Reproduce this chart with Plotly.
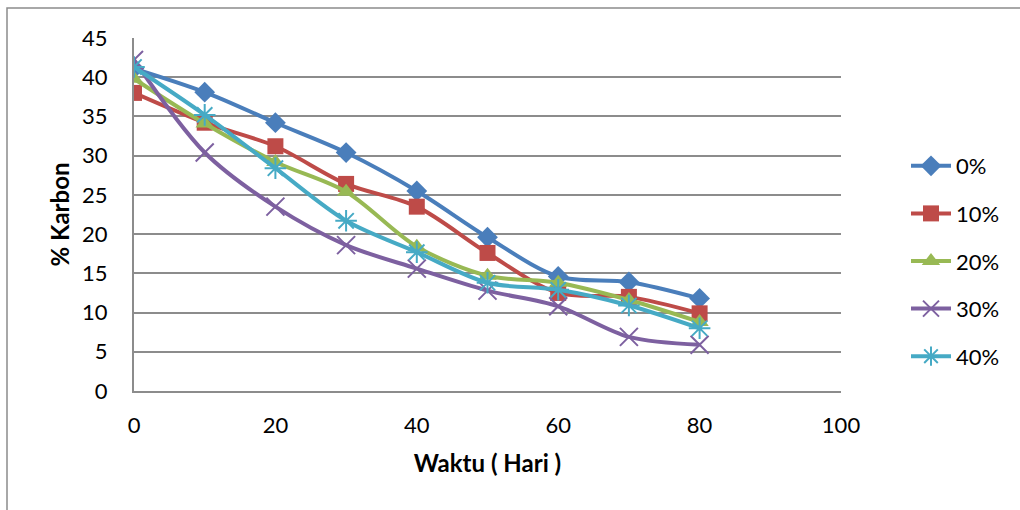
import plotly.graph_objects as go

# Days of observation
waktu = [0, 10, 20, 30, 40, 50, 60, 70, 80]

# Carbon content (%) per treatment
karbon_0 = [41.1, 38.1, 34.2, 30.4, 25.5, 19.6, 14.6, 13.9, 11.8]
karbon_10 = [38.0, 34.2, 31.2, 26.4, 23.5, 17.6, 12.5, 12.0, 9.9]
karbon_20 = [39.8, 34.1, 29.2, 25.4, 18.4, 14.7, 13.8, 11.6, 8.8]
karbon_30 = [42.2, 30.4, 23.5, 18.6, 15.6, 12.8, 10.8, 6.9, 5.9]
karbon_40 = [41.3, 35.2, 28.4, 21.7, 17.7, 13.8, 12.9, 10.9, 8.0]

labels = ["0%", "10%", "20%", "30%", "40%"]
colors = ["#4A7EBB", "#BE4B48", "#98B954", "#7D60A0", "#46AAC5"]
symbols = ["diamond", "square", "triangle-up", "x-thin-open", "asterisk-open"]
sizes = [16, 16, 16, 18, 18]
series = [karbon_0, karbon_10, karbon_20, karbon_30, karbon_40]

FONT = "Lato"

fig = go.Figure()
for i, (name, vals) in enumerate(zip(labels, series)):
    thin = symbols[i].endswith("open")
    fig.add_trace(go.Scatter(
        x=waktu, y=vals, name=name, mode="lines+markers",
        legendgroup=name,
        line=dict(color=colors[i], width=4, shape="spline", smoothing=0.9),
        marker=dict(symbol=symbols[i], size=sizes[i], color=colors[i],
                    line=dict(color=colors[i], width=2 if thin else 0)),
    ))

# plot area in pixels
L, R, T, B = 134, 841, 38, 391
W, H = 1020, 510
pw, ph = R - L, B - T

def px_x(p):
    return (p - L) / pw

def px_y(p):
    return (B - p) / ph

fig.update_layout(
    width=W, height=H,
    margin=dict(l=L, r=W - R, t=T, b=H - B),
    paper_bgcolor="white", plot_bgcolor="white",
    font=dict(family=FONT, size=22, color="#000000"),
    xaxis=dict(range=[0, 100], tickvals=[0, 20, 40, 60, 80, 100],
               showgrid=False, zeroline=False, showline=True,
               linecolor="#8C8C8C", linewidth=2, ticks="",
               ticklabelstandoff=14,
               title=dict(text="<b>Waktu ( Hari )</b>", font=dict(size=24), standoff=18)),
    yaxis=dict(range=[0, 45], dtick=5, showgrid=True, gridcolor="#8C8C8C",
               gridwidth=1.5, zeroline=False, showline=True,
               linecolor="#8C8C8C", linewidth=2, ticks="",
               ticklabelstandoff=20,
               title=dict(text="<b>% Karbon</b>", font=dict(size=24), standoff=6)),
    legend=dict(x=px_x(906), y=px_y(261), xanchor="left", yanchor="middle",
                font=dict(size=22), tracegroupgap=16, traceorder="grouped",
                itemwidth=40, bgcolor="rgba(0,0,0,0)"),
    shapes=[dict(type="rect", xref="paper", yref="paper",
                 x0=px_x(7), y0=px_y(520), x1=px_x(1030), y1=px_y(8),
                 line=dict(color="#8C8C8C", width=1.5), layer="below")],
)

fig.write_html("out.html")
